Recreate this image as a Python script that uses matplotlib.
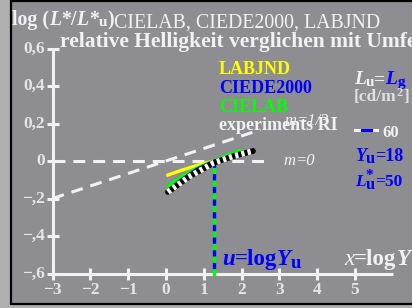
import matplotlib
matplotlib.use("Agg")
from matplotlib import pyplot as plt
from matplotlib.patches import Rectangle

# data (x = log Y, y = log L*/L*u)
x_ticks = [-3, -2, -1, 0, 1, 2, 3, 4, 5]
x_tick_labels = ["\u22123", "\u22122", "\u22121", "0", "1", "2", "3", "4", "5"]
y_ticks = [0.6, 0.4, 0.2, 0.0, -0.2, -0.4, -0.6]
y_tick_labels = ["0,6", "0,4", "0,2", "0", "\u2212,2", "\u2212,4", "\u2212,6"]

labjnd_x = [0.05, 0.4, 0.8, 1.26]
labjnd_y = [-0.075, -0.05, -0.025, 0.0]
cielab_x = [0.05, 0.4, 0.8, 1.26, 1.6, 1.95]
cielab_y = [-0.135, -0.085, -0.04, 0.0, 0.03, 0.055]
ciede_x = [0.1, 0.4, 0.8, 1.26, 1.6, 1.9]
ciede_y = [-0.15, -0.1, -0.045, 0.0, 0.018, 0.035]
exp_x = [0.05, 0.6, 1.26, 1.8, 2.3]
exp_y = [-0.165, -0.085, -0.01, 0.027, 0.053]

m0_x = [-3, 2.7]
m0_y = [0.0, 0.0]
m13_x = [-3, 2.5]
m13_y = [-0.2, 0.167]

u_adapt = 1.26  # log 18

W, H = 412, 308
fig = plt.figure(figsize=(W / 100, H / 100), dpi=100)
fig.patch.set_facecolor("#b0b0b0")
fig.patches.append(Rectangle((10.5 / W, 1 - 303.5 / H), 1.0, 303.0 / H,
                             transform=fig.transFigure, facecolor="#8d8d92",
                             edgecolor="black", linewidth=1.6, zorder=-5))

ax = fig.add_axes([0, 0, 1, 1])
ax.set_xlim(-166 / 37.8, (W - 166) / 37.8)
ax.set_ylim(-(H - 161) / 187.5, 161 / 187.5)
ax.axis("off")
ax.patch.set_alpha(0)

white = "#f2f2f2"
serif = "Liberation Serif"

# axes
ax.plot([-3, -3], [-0.6, 0.6], color=white, lw=2.2, solid_capstyle="butt")
ax.plot([-3, 6], [-0.6, -0.6], color=white, lw=2.2, solid_capstyle="butt")
ax.plot([-3] * len(y_ticks), y_ticks, ls="none", marker="_", ms=8, mew=2.2, color=white)
ax.plot(x_ticks, [-0.6] * len(x_ticks), ls="none", marker="|", ms=8, mew=2.2, color=white)

for v, s in zip(y_ticks, y_tick_labels):
    ax.text(-3.2, v, s, ha="right", va="center", color="#e6e6e6",
            fontsize=12.5, fontweight="bold", family=serif)
for v, s in zip(x_ticks, x_tick_labels):
    ax.text(v, -0.645, s, ha="center", va="top", color="#e6e6e6",
            fontsize=12.5, fontweight="bold", family=serif)

# reference lines
ax.plot(m0_x, m0_y, color=white, lw=2.2, dashes=(3.9, 2.6))
ax.plot(m13_x, m13_y, color=white, lw=2.2, dashes=(3.9, 2.6))

# adaptation line
ax.plot([u_adapt, u_adapt], [0, -0.6], color="#00ff00", lw=2.4)
ax.plot([u_adapt, u_adapt], [0, -0.6], color="#0000ff", lw=2.4, dashes=(1.9, 1.9))

# curves
ax.plot(labjnd_x, labjnd_y, color="#ffff00", lw=2.4)
ax.plot(cielab_x, cielab_y, color="#00ff00", lw=2.4)
ax.plot(ciede_x, ciede_y, color="#0000ff", lw=2.0)
ax.plot(exp_x, exp_y, color="black", lw=4.2, solid_capstyle="round")
ax.plot(exp_x, exp_y, color="white", lw=4.2, dashes=(0.55, 0.55))

# legend sample line
ax.plot([(355 - 166) / 37.8, (377 - 166) / 37.8], [(161 - 130) / 187.5] * 2, color=white, lw=2.2)
ax.plot([(362 - 166) / 37.8, (371 - 166) / 37.8], [(161 - 130) / 187.5] * 2, color="#0000ff", lw=2.2)

renderer = fig.canvas.get_renderer()


def run(x, y, pieces):
    for p in pieces:
        s = p[0]
        kw = dict(p[1])
        dy = kw.pop("dy", 0)
        adv = kw.pop("adv", True)
        kw.setdefault("family", serif)
        kw.setdefault("fontweight", "bold")
        kw.setdefault("color", white)
        t = fig.text(x / W, 1 - (y + dy) / H, s, va="baseline", ha="left", **kw)
        if adv:
            x += t.get_window_extent(renderer).width


B = "#0000ff"
run(12, 25, [("log (", dict(fontsize=14.3)),
             ("L", dict(fontsize=14.3, style="italic")),
             ("*/", dict(fontsize=14.3)),
             ("L", dict(fontsize=14.3, style="italic")),
             ("*", dict(fontsize=14.3)),
             ("u", dict(fontsize=11, dy=1)),
             (")", dict(fontsize=14.3)),
             ("CIELAB, CIEDE2000, LABJND", dict(fontsize=14.3, fontweight="normal", dy=3))])
run(60, 47, [("relative Helligkeit verglichen mit Umfeld", dict(fontsize=15.5))])

run(219, 74, [("LABJND", dict(fontsize=13, color="#ffff00"))])
run(219, 93, [("CIEDE2000", dict(fontsize=13, color=B))])
run(219, 112, [("CIELAB", dict(fontsize=13, color="#00ff00"))])
run(219, 130, [("experiments RI", dict(fontsize=13))])
run(284, 125, [("m", dict(fontsize=12, style="italic", fontweight="normal")),
               ("=1/3", dict(fontsize=12, style="italic", fontweight="normal"))])
run(283, 165, [("m", dict(fontsize=12, style="italic", fontweight="normal")),
               ("=0", dict(fontsize=12, style="italic", fontweight="normal"))])

run(354, 84, [("L", dict(fontsize=14, style="italic")),
              ("u", dict(fontsize=11, dy=2)),
              ("=", dict(fontsize=14)),
              ("L", dict(fontsize=14, style="italic", color=B)),
              ("g", dict(fontsize=11, dy=2, color=B))])
run(354, 101, [("[cd/m", dict(fontsize=12.5, color="#e0e0e0")),
               ("2", dict(fontsize=9, dy=-5, color="#e0e0e0")),
               ("]", dict(fontsize=12.5, color="#e0e0e0"))])
run(382, 137, [("60", dict(fontsize=12))])
run(355, 161, [("Y", dict(fontsize=13, style="italic", color=B)),
               ("u", dict(fontsize=12, dy=2, color=B)),
               ("=18", dict(fontsize=13, color=B))])
run(355, 186, [("L", dict(fontsize=12.5, style="italic", color=B)),
               ("*", dict(fontsize=11, dy=-7, color=B, adv=False)),
               ("u", dict(fontsize=12, dy=3, color=B)),
               ("=50", dict(fontsize=12.5, color=B))])

run(222, 265, [("u", dict(fontsize=16.5, style="italic", color=B)),
               ("=log", dict(fontsize=16.5, color=B)),
               ("Y", dict(fontsize=16.5, style="italic", color=B)),
               ("u", dict(fontsize=13.5, dy=3, color=B))])
run(344, 265, [("x", dict(fontsize=16.5, style="italic", fontweight="normal")),
               ("=log", dict(fontsize=16.5)),
               ("Y", dict(fontsize=16.5, style="italic"))])

fig.savefig("out.png", dpi=100, facecolor=fig.get_facecolor())
